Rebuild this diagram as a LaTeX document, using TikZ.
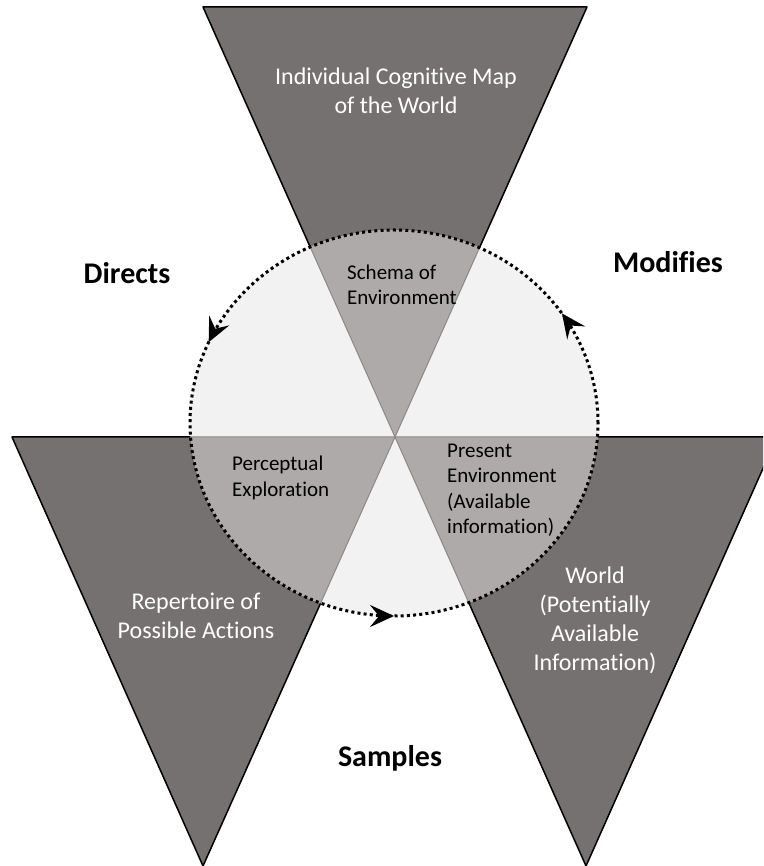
\documentclass[tikz,border=0pt]{standalone}
\usepackage{fontspec}
\setmainfont[Ligatures=NoCommon]{Carlito}
\usetikzlibrary{arrows.meta,decorations.markings}

\definecolor{conedark}{HTML}{767171}
\definecolor{conelight}{HTML}{AEAAAA}
\definecolor{hubfill}{HTML}{F2F2F2}
\definecolor{coneedge}{HTML}{8C8888}

\begin{document}
\begin{tikzpicture}[x=1pt,y=1pt,>={Stealth[length=24pt,width=22pt,inset=9pt]},
                    cone/.style={fill=conedark,draw=black,line width=1.5pt,line join=round},
                    conein/.style={fill=conelight,draw=coneedge,line width=1pt},
                    dotring/.style={draw=black,line width=3pt,dash pattern=on 3pt off 3.2pt},
                    tag/.style={font=\bfseries\fontsize{30}{36}\selectfont},
                    outer/.style={text=white,align=center,font=\fontsize{24}{29}\selectfont},
                    inner/.style={align=left,anchor=west,inner sep=0pt,font=\fontsize{21}{25.5}\selectfont}]
  \clip (0,0) rectangle (763,866);

  % corners of the three cones
  \coordinate (mid)      at (395,429);
  \coordinate (mapL)     at (203,859);
  \coordinate (mapR)     at (587,859);
  \coordinate (repL)     at (12,429);
  \coordinate (repTip)   at (203,0);
  \coordinate (worldR)   at (777,429);
  \coordinate (worldTip) at (586,0);
  \coordinate (hub)      at (394,443);

  \foreach \a/\b/\c in {mapL/mapR/mid, repL/mid/repTip, mid/worldR/worldTip}
    \draw[cone] (\a) -- (\b) -- (\c) -- cycle;

  \fill[hubfill] (hub) ellipse [x radius=204, y radius=193];
  \begin{scope}
    \clip (hub) ellipse [x radius=204, y radius=193];
    \foreach \a/\b/\c in {mapL/mapR/mid, repL/mid/repTip, mid/worldR/worldTip}
      \draw[conein] (\a) -- (\b) -- (\c) -- cycle;
  \end{scope}

  % the cycle, counter clockwise
  \draw[dotring,postaction={decorate},
        decoration={markings,
                    mark=at position 0.094 with {\arrow{>}},
                    mark=at position 0.433 with {\arrow{>}},
                    mark=at position 0.75 with {\arrow{>}}}]
    (hub) ellipse [x radius=204, y radius=193];

  \node[outer] (map)   at (396,775) {Individual Cognitive Map\\of the World};
  \node[outer] (rep)   at (196,250) {Repertoire of\\Possible Actions};
  \node[outer] (world) at (595,246) {World\\(Potentially\\Available\\Information)};

  \node[inner] (schema) at (347,581) {Schema of\\Environment};
  \node[inner] (percep) at (232,388) {Perceptual\\Exploration};
  \node[inner] (present) at (447,376) {Present\\Environment\\(Available\\information)};

  \node[tag] (directs)  at (127,593) {Directs};
  \node[tag] (modifies) at (668,604) {Modifies};
  \node[tag] (samples)  at (390,108) {Samples};
\end{tikzpicture}
\end{document}
